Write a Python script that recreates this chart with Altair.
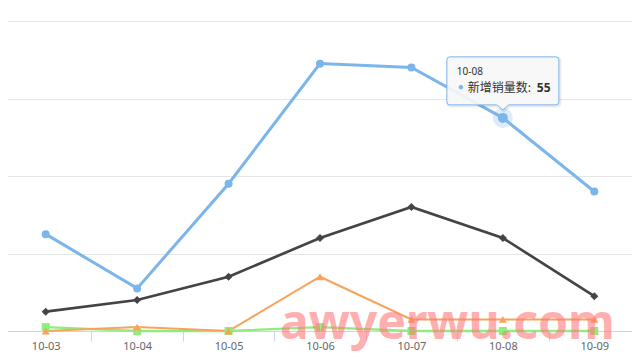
import altair as alt
import pandas as pd

# ---- data ----
categories = ["10-03", "10-04", "10-05", "10-06", "10-07", "10-08", "10-09"]
series_names = ["新增销量数", "系列2", "系列3", "系列4"]
series_blue = [25, 11, 38, 69, 68, 55, 36]
series_black = [5, 8, 14, 24, 32, 24, 9]
series_green = [1, 0, 0, 1, 0, 0, 0]
series_orange = [0, 1, 0, 14, 3, 3, 3]
colors = ["#7cb5ec", "#434348", "#90ed7d", "#f7a35c"]
shapes = ["circle", "diamond", "square", "triangle-up"]
line_widths = [3, 2, 2, 2]
y_ticks = [0, 20, 40, 60, 80]
hover_index = 5  # 10-08 on the blue series

rows = []
for name, vals in zip(series_names, [series_blue, series_black, series_green, series_orange]):
    for c, v in zip(categories, vals):
        rows.append({"cat": c, "value": v, "series": name})
df = pd.DataFrame(rows)

tip = pd.DataFrame([{
    "cat": categories[hover_index],
    "value": series_blue[hover_index],
    "head": categories[hover_index],
    "label": series_names[0] + ": ",
    "num": str(series_blue[hover_index]),
    "dot": "\u25CF",
}])

x_enc = alt.X(
    "cat:N",
    sort=categories,
    scale=alt.Scale(domain=categories, range=[-8, 632], paddingInner=0, paddingOuter=0),
    axis=alt.Axis(
        title=None, labelAngle=0, tickBand="extent", tickSize=10,
        tickColor="#ccd6eb", domainColor="#ccd6eb", labelColor="#666666",
        labelFontSize=11, labelFont="Noto Sans", grid=False, labelPadding=-1,
    ),
)
y_enc = alt.Y(
    "value:Q",
    scale=alt.Scale(domain=[0, 80], nice=False),
    axis=alt.Axis(values=y_ticks, grid=True, gridColor="#e6e6e6", labels=False,
                  ticks=False, domain=False, title=None),
)

color_scale = alt.Scale(domain=series_names, range=colors)

lines = alt.Chart(df).mark_line().encode(
    x=x_enc, y=y_enc,
    color=alt.Color("series:N", scale=color_scale, legend=None),
    strokeWidth=alt.StrokeWidth("series:N", scale=alt.Scale(domain=series_names, range=line_widths), legend=None),
)

points = alt.Chart(df).mark_point(filled=True, opacity=1, size=64).encode(
    x=alt.X("cat:N", sort=categories), y="value:Q",
    color=alt.Color("series:N", scale=color_scale, legend=None),
    shape=alt.Shape("series:N", scale=alt.Scale(domain=series_names, range=shapes), legend=None),
)

halo = alt.Chart(tip).mark_point(filled=True, shape="circle", size=400, color="#7cb5ec", opacity=0.25).encode(
    x=alt.X("cat:N", sort=categories), y="value:Q")
hover_pt = alt.Chart(tip).mark_point(filled=True, shape="circle", size=100, color="#7cb5ec", opacity=1).encode(
    x=alt.X("cat:N", sort=categories), y="value:Q")

box_path = ("M -53 -61 L 53 -61 Q 56 -61 56 -58 L 56 -16 Q 56 -13 53 -13 L 6 -13 L 0 -8 "
            "L -6 -13 L -53 -13 Q -56 -13 -56 -16 L -56 -58 Q -56 -61 -53 -61 Z")
shadow_path = ("M -52 -60 L 54 -60 Q 57 -60 57 -57 L 57 -15 Q 57 -12 54 -12 L 7 -12 L 1 -7 "
               "L -5 -12 L -52 -12 Q -55 -12 -55 -15 L -55 -57 Q -55 -60 -52 -60 Z")

shadow = alt.Chart(tip).mark_point(shape=shadow_path, size=4, filled=False, stroke="#000000",
                                   strokeOpacity=0.08, strokeWidth=3, opacity=1).encode(
    x=alt.X("cat:N", sort=categories), y="value:Q")
box = alt.Chart(tip).mark_point(shape=box_path, size=4, filled=True, fill="#f7f7f7", fillOpacity=0.9,
                                stroke="#7cb5ec", strokeWidth=1, opacity=1).encode(
    x=alt.X("cat:N", sort=categories), y="value:Q")

head = alt.Chart(tip).mark_text(align="left", baseline="middle", dx=-46, dy=-46, fontSize=10,
                                font="Noto Sans", color="#333333").encode(
    x=alt.X("cat:N", sort=categories), y="value:Q", text="head:N")
dot = alt.Chart(tip).mark_text(align="center", baseline="middle", dx=-42, dy=-31, fontSize=10,
                               color="#7cb5ec").encode(
    x=alt.X("cat:N", sort=categories), y="value:Q", text="dot:N")
label = alt.Chart(tip).mark_text(align="left", baseline="middle", dx=-35, dy=-30, fontSize=12,
                                 font="Noto Sans CJK SC", color="#333333").encode(
    x=alt.X("cat:N", sort=categories), y="value:Q", text="label:N")
num = alt.Chart(tip).mark_text(align="left", baseline="middle", dx=34, dy=-30, fontSize=12,
                               font="Noto Sans", fontWeight="bold", color="#333333").encode(
    x=alt.X("cat:N", sort=categories), y="value:Q", text="num:N")

watermark = alt.Chart(pd.DataFrame({"t": ["awyerwu.com"]})).mark_text(
    align="left", baseline="alphabetic", fontSize=48, font="Noto Sans", fontWeight="bold",
    color="#ff7b7b", opacity=0.6,
).encode(x=alt.value(272), y=alt.value(318), text="t:N")

chart = alt.layer(lines, points, halo, hover_pt, shadow, box, head, dot, label, num, watermark).properties(
    width=624, height=310,
    autosize=alt.AutoSizeParams(type="none"),
    padding={"left": 0, "top": 13, "right": 0, "bottom": 21},
    background="white",
).configure_view(stroke=None)

chart.save("out.html", embed_options={"renderer": "svg", "actions": False})
